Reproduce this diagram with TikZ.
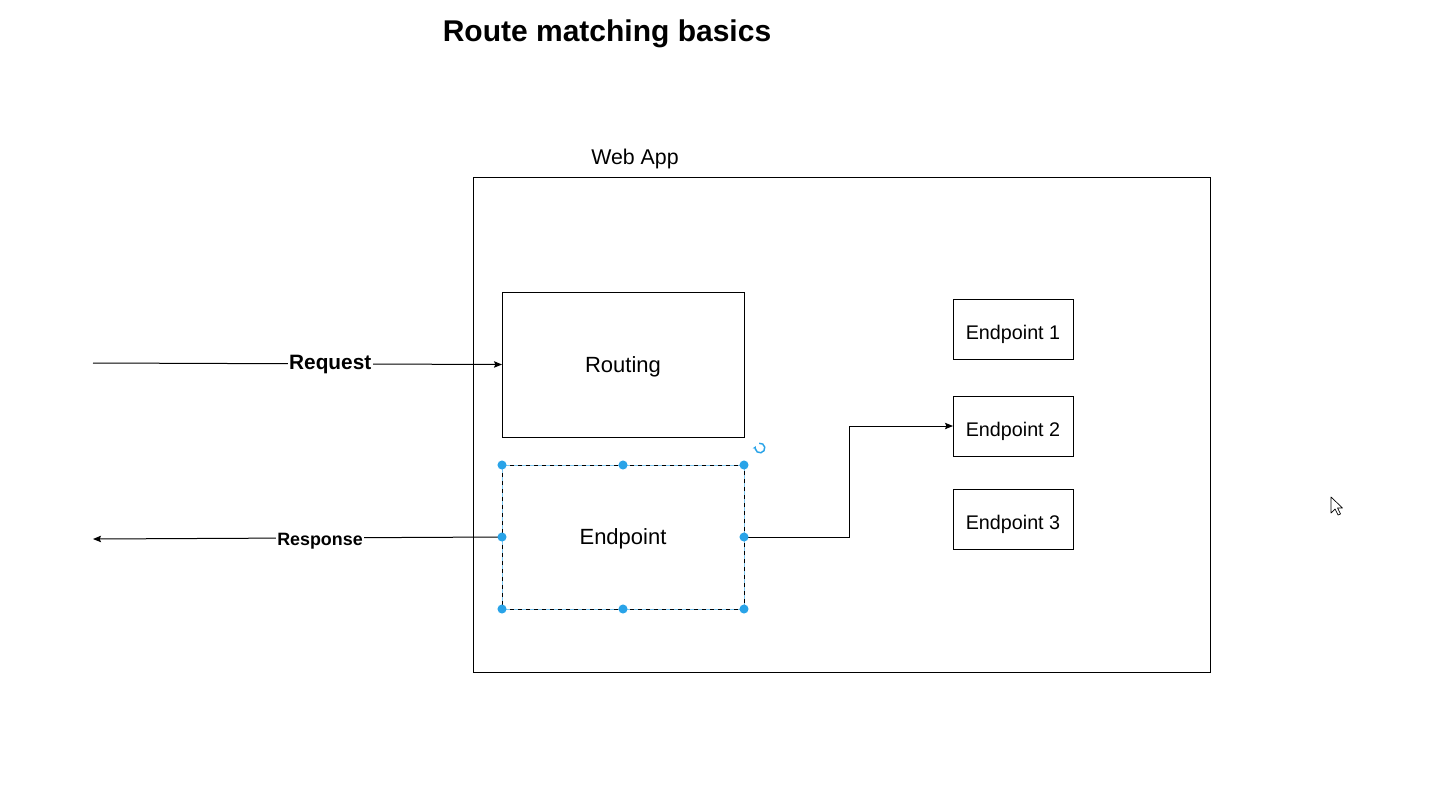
\documentclass[tikz,border=0pt]{standalone}
\usepackage{fontspec}
\setmainfont{Liberation Sans}
\usepackage{xcolor}
\usepackage{tikz}
\usetikzlibrary{shapes,positioning,arrows.meta}
\definecolor{handleblue}{HTML}{29A3E8}
\tikzset{box/.style={rectangle,draw,text height=11.8pt,text depth=0pt,inner sep=0pt,outer sep=0pt,line width=0.75pt,font=\fontsize{16.5}{20}\selectfont},
  epbox/.style={box,minimum width=90pt,minimum height=45pt,text height=15pt,font=\fontsize{14.8}{18}\selectfont},
  lbl/.style={fill=white,text height=11.2pt,text depth=0pt,inner sep=1pt,font=\bfseries\fontsize{15.6}{18}\selectfont},
  handle/.style={fill=handleblue}}

\begin{document}
\begin{tikzpicture}[x=0.75pt,y=-0.75pt,>={Stealth[length=6pt,width=4.8pt,inset=1pt]},line width=0.75pt]
    \useasboundingbox (0,0) rectangle (1448,789);
    \node[text height=16.1pt,text depth=0pt,font=\bfseries\fontsize{22.5}{26}\selectfont] (title) at (607,31) {Route matching basics};
    \node[text height=11.5pt,text depth=0pt,font=\fontsize{16}{19}\selectfont] (webapp) at (635,157) {Web App};
    \node[box,minimum width=552.75pt,minimum height=371.25pt] (app) at (841.5,424.5) {};
    \node[box,minimum width=181.5pt,minimum height=108.75pt] (routing) at (623,364.5) {Routing};
    \node[box,draw=handleblue!60,minimum width=181.5pt,minimum height=108pt] (ep) at (623,537) {Endpoint};
    \draw [dashed,line width=0.6pt] (ep.north west) rectangle (ep.south east);
    \node[epbox] (ep1) at (1013,329) {Endpoint 1};
    \node[epbox] (ep2) at (1013,426) {Endpoint 2};
    \node[epbox] (ep3) at (1013,519) {Endpoint 3};
    \coordinate (reqin) at (93,363);
    \coordinate (resout) at (93,539);

    \draw [->] (reqin) to []node[lbl,pos=0.58,yshift=1.5pt]{Request} (routing.west);
    \draw [->] (ep.west) to []node[lbl,pos=0.445,yshift=-1pt,text height=9.6pt,font=\bfseries\fontsize{13.4}{16}\selectfont]{Response} (resout);
    \draw [->] (ep.east) -- ++(105,0) |- (ep2.west);

    % selection handles
    \foreach \a in {north west,north,north east,east,south east,south,south west,west}
        \fill[handle] (ep.\a) circle (3.4pt);
    \coordinate (rot) at (760,448);
    \draw[handleblue,line width=1.1pt,-{Stealth[length=2.2pt,width=3pt]}] ([shift={(100:3.6pt)}]rot) arc[start angle=100,end angle=-200,radius=3.6pt];

    % cursor
    \coordinate (cur) at (1331,497);
    \draw[fill=white,line width=0.5pt,line join=round] (cur) -- ++(0,16) -- ++(4,-4) -- ++(3,6) -- ++(2.5,-1) -- ++(-3,-6) -- ++(5,0) -- cycle;
\end{tikzpicture}
\end{document}
